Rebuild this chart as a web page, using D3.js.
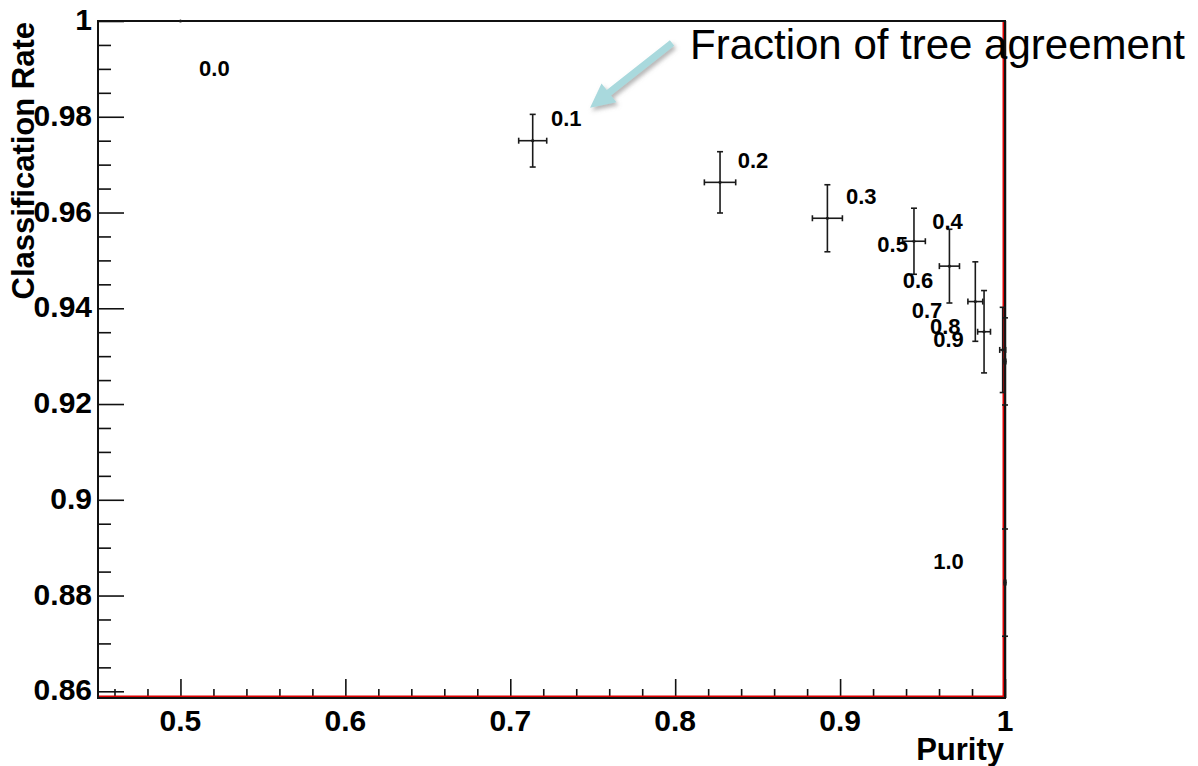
<!DOCTYPE html>
<html>
<head>
<meta charset="utf-8">
<script src="https://cdn.jsdelivr.net/npm/d3@7"></script>
<style>
  html, body { margin: 0; padding: 0; background: #fff; }
  svg { display: block; }
  text { font-family: "Liberation Sans", Arial, Helvetica, sans-serif; }
</style>
</head>
<body>
<svg id="chart" width="1198" height="766"></svg>
<script>
// ---------------- data ----------------
const fractions   = ["0.0","0.1","0.2","0.3","0.4","0.5","0.6","0.7","0.8","0.9","1.0"];
const purity      = [0.5, 0.7136, 0.8272, 0.8923, 0.9448, 0.9663, 0.9820, 0.9873, 0.9986, 1.0, 1.0];
const purityErr   = [0, 0.0085, 0.0095, 0.0091, 0.0069, 0.0061, 0.0045, 0.0039, 0.0018, 0.0005, 0.0005];
const rate        = [1.0, 0.9750, 0.9663, 0.9588, 0.9540, 0.9488, 0.9414, 0.9351, 0.9313, 0.9289, 0.8827];
const rateErr     = [0, 0.0055, 0.0064, 0.0070, 0.0069, 0.0077, 0.0083, 0.0086, 0.0089, 0.0091, 0.0112];
// label anchors (data coordinates) for the fraction annotations
const labelText   = ["0.0","0.1","0.2","0.3","0.4","0.5","0.6","0.7","0.8","0.9","1.0"];
const labelPurity = [0.5113, 0.7247, 0.8379, 0.9036, 0.9559, 0.9226, 0.9380, 0.9434, 0.9545, 0.9565, 0.9565];
const labelRate   = [0.9886, 0.9780, 0.9692, 0.9618, 0.9566, 0.9517, 0.9442, 0.9380, 0.9346, 0.9320, 0.8856];
const xMajorTicks = [0.5, 0.6, 0.7, 0.8, 0.9, 1.0];
const xTickLabels = ["0.5","0.6","0.7","0.8","0.9","1"];
const yMajorTicks = [0.86, 0.88, 0.90, 0.92, 0.94, 0.96, 0.98, 1.0];
const yTickLabels = ["0.86","0.88","0.9","0.92","0.94","0.96","0.98","1"];
const xDomain = [0.45, 1.0];
const yDomain = [0.8586, 1.0];
const arrowTail = [0.7981, 0.9954];
const arrowTip  = [0.7484, 0.9819];
const annotation = "Fraction of tree agreement";
const xTitle = "Purity";
const yTitle = "Classification Rate";

// ---------------- layout ----------------
const L = 98, R = 1005, T = 21, B = 698;
const svg = d3.select("#chart");
const x = d3.scaleLinear().domain(xDomain).range([L, R]);
const y = d3.scaleLinear().domain(yDomain).range([B, T]);

const defs = svg.append("defs");
const f = defs.append("filter").attr("id","shadow").attr("x","-20%").attr("y","-20%").attr("width","140%").attr("height","140%");
f.append("feDropShadow").attr("dx",2).attr("dy",3).attr("stdDeviation",2)
  .attr("flood-color","#777").attr("flood-opacity",0.55);
defs.append("clipPath").attr("id","plotclip").append("rect")
  .attr("x", L - 8).attr("y", T - 8).attr("width", R - L + 16).attr("height", B - T + 16);

// ---------------- axes ----------------
const xMinor = d3.range(0.46, 1.0001, 0.02).filter(v => !xMajorTicks.some(m => Math.abs(m - v) < 1e-6));
const yMinor = d3.range(0.86, 1.0001, 0.005).filter(v => !yMajorTicks.some(m => Math.abs(m - v) < 1e-6));

const xAxisMajor = d3.axisTop(x).tickValues(xMajorTicks).tickSize(19).tickFormat("");
const xAxisMinor = d3.axisTop(x).tickValues(xMinor).tickSize(9).tickFormat("");
const yAxisMajor = d3.axisRight(y).tickValues(yMajorTicks).tickSize(26).tickFormat("");
const yAxisMinor = d3.axisRight(y).tickValues(yMinor).tickSize(13).tickFormat("");

function styleAxis(g) {
  g.select(".domain").remove();
  g.selectAll(".tick line").attr("stroke", "#111").attr("stroke-width", 1.6);
}
svg.append("g").attr("transform", `translate(0,${B})`).call(xAxisMajor).call(styleAxis);
svg.append("g").attr("transform", `translate(0,${B})`).call(xAxisMinor).call(styleAxis);
svg.append("g").attr("transform", `translate(${L},0)`).call(yAxisMajor).call(styleAxis);
svg.append("g").attr("transform", `translate(${L},0)`).call(yAxisMinor).call(styleAxis);

// tick labels
svg.append("g").selectAll("text").data(xMajorTicks).join("text")
  .attr("x", d => x(d)).attr("y", 731)
  .attr("text-anchor", "middle")
  .attr("font-size", 30).attr("font-weight", "bold").attr("fill", "#000")
  .text((d, i) => xTickLabels[i]);
svg.append("g").selectAll("text").data(yMajorTicks).join("text")
  .attr("x", L - 6).attr("y", d => y(d) + 9)
  .attr("text-anchor", "end")
  .attr("font-size", 30).attr("font-weight", "bold").attr("fill", "#000")
  .text((d, i) => yTickLabels[i]);

// axis titles
svg.append("text").attr("x", 1004).attr("y", 760)
  .attr("text-anchor", "end").attr("font-size", 31).attr("font-weight", "bold")
  .text(xTitle);
svg.append("text").attr("transform", "translate(34,22) rotate(-90)")
  .attr("text-anchor", "end").attr("font-size", 31).attr("font-weight", "bold")
  .text(yTitle);

// ---------------- red reference line ----------------
svg.append("path")
  .attr("d", d3.line()([[x(xDomain[0]), y(yDomain[0]) - 1.5], [x(1.0) - 1.5, y(yDomain[0]) - 1.5], [x(1.0) - 1.5, y(1.0)]]))
  .attr("fill", "none").attr("stroke", "#e00000").attr("stroke-width", 2);

// frame
svg.append("rect").attr("x", L).attr("y", T).attr("width", R - L).attr("height", B - T)
  .attr("fill", "none").attr("stroke", "#111").attr("stroke-width", 2);
svg.append("line").attr("x1", R + 0.5).attr("x2", R + 0.5).attr("y1", T).attr("y2", B)
  .attr("stroke", "#111").attr("stroke-width", 1.5);

// ---------------- data points with error bars ----------------
const pts = fractions.map((f, i) => ({ f, px: purity[i], pe: purityErr[i], r: rate[i], re: rateErr[i] }));
const gp = svg.append("g").attr("clip-path", "url(#plotclip)")
  .attr("stroke", "#1a1a1a").attr("stroke-width", 1.6).attr("fill", "none");
const cap = 3;
pts.forEach(p => {
  const cx = x(p.px), cy = y(p.r);
  if (p.re > 0) {
    const y1 = y(p.r + p.re), y2 = y(p.r - p.re);
    gp.append("line").attr("x1", cx).attr("x2", cx).attr("y1", y1).attr("y2", y2);
    gp.append("line").attr("x1", cx - cap).attr("x2", cx + cap).attr("y1", y1).attr("y2", y1);
    gp.append("line").attr("x1", cx - cap).attr("x2", cx + cap).attr("y1", y2).attr("y2", y2);
  }
  if (p.pe > 0) {
    const x1 = x(p.px - p.pe), x2 = x(p.px + p.pe);
    gp.append("line").attr("x1", x1).attr("x2", x2).attr("y1", cy).attr("y2", cy);
    gp.append("line").attr("x1", x1).attr("x2", x1).attr("y1", cy - cap).attr("y2", cy + cap);
    gp.append("line").attr("x1", x2).attr("x2", x2).attr("y1", cy - cap).attr("y2", cy + cap);
  }
  gp.append("circle").attr("cx", cx).attr("cy", cy).attr("r", 1.6).attr("fill", "#1a1a1a").attr("stroke", "none");
});

// fraction labels
svg.append("g").selectAll("text").data(labelText).join("text")
  .attr("x", (d, i) => x(labelPurity[i])).attr("y", (d, i) => y(labelRate[i]))
  .attr("font-size", 22).attr("font-weight", "bold").attr("fill", "#000")
  .text(d => d);

// ---------------- annotation arrow ----------------
(function () {
  const tx = x(arrowTail[0]), ty = y(arrowTail[1]);
  const hx = x(arrowTip[0]),  hy = y(arrowTip[1]);
  const dx = hx - tx, dy = hy - ty, len = Math.hypot(dx, dy);
  const ux = dx / len, uy = dy / len, nx = -uy, ny = ux;
  const headLen = 24, headW = 12, shaftW = 3.5;
  const bx = hx - ux * headLen, by = hy - uy * headLen;
  const poly = [
    [tx + nx * shaftW, ty + ny * shaftW],
    [bx + nx * shaftW, by + ny * shaftW],
    [bx + nx * headW,  by + ny * headW],
    [hx, hy],
    [bx - nx * headW,  by - ny * headW],
    [bx - nx * shaftW, by - ny * shaftW],
    [tx - nx * shaftW, ty - ny * shaftW]
  ];
  svg.append("path").attr("d", d3.line()(poly) + "Z")
    .attr("fill", "#a9d9dd").attr("filter", "url(#shadow)");
})();

svg.append("text").attr("x", 690).attr("y", 59)
  .attr("font-size", 42).attr("fill", "#000")
  .text(annotation);
</script>
</body>
</html>
